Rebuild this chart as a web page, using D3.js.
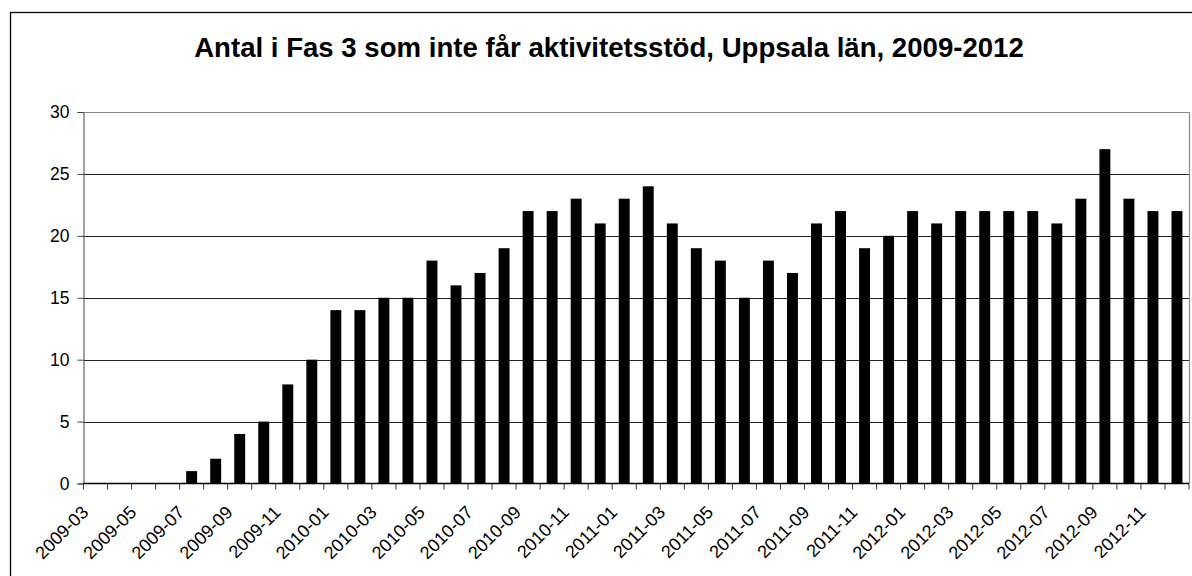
<!DOCTYPE html>
<html lang="sv">
<head>
  <meta charset="UTF-8">
  <title>Antal i Fas 3 som inte får aktivitetsstöd</title>
  <script src="https://d3js.org/d3.v7.min.js"></script>
  <style>
    body {
      margin: 0;
      padding: 0;
      background: #fff;
    }
    svg {
      display: block;
      font-family: Arial, "Liberation Sans", sans-serif;
    }
  </style>
</head>
<body>
  <svg width="1192" height="576"></svg>

  <script>
    // months 2009-03 .. 2012-12
    const months = [
      "2009-03", "2009-04", "2009-05", "2009-06", "2009-07", "2009-08", "2009-09", "2009-10",
      "2009-11", "2009-12", "2010-01", "2010-02", "2010-03", "2010-04", "2010-05", "2010-06",
      "2010-07", "2010-08", "2010-09", "2010-10", "2010-11", "2010-12", "2011-01", "2011-02",
      "2011-03", "2011-04", "2011-05", "2011-06", "2011-07", "2011-08", "2011-09", "2011-10",
      "2011-11", "2011-12", "2012-01", "2012-02", "2012-03", "2012-04", "2012-05", "2012-06",
      "2012-07", "2012-08", "2012-09", "2012-10", "2012-11", "2012-12"
    ];

    const counts = [
      0, 0, 0, 0, 1, 2, 4, 5,
      8, 10, 14, 14, 15, 15, 18, 16,
      17, 19, 22, 22, 23, 21, 23, 24,
      21, 19, 18, 15, 18, 17, 21, 22,
      19, 20, 22, 21, 22, 22, 22, 22,
      21, 23, 27, 23, 22, 22
    ];

    const yTicks = [0, 5, 10, 15, 20, 25, 30];

    const title = "Antal i Fas 3 som inte får aktivitetsstöd, Uppsala län, 2009-2012";

    const svg = d3.select("svg");

    const plotL = 83.5, plotR = 1189, plotT = 112, plotB = 483.5;

    // outer chart border
    svg.append("rect")
      .attr("x", 10.5).attr("y", 12.5)
      .attr("width", 1200).attr("height", 600)
      .attr("fill", "#fff")
      .attr("stroke", "#000")
      .attr("stroke-width", 1.3);

    svg.append("text")
      .attr("x", 609)
      .attr("y", 57)
      .attr("text-anchor", "middle")
      .attr("font-size", 27.6)
      .attr("font-weight", "bold")
      .text(title);

    const x = d3.scaleBand()
      .domain(months)
      .range([plotL, plotR])
      .paddingInner(0.545)
      .paddingOuter(0.2725);

    const y = d3.scaleLinear()
      .domain([0, 30])
      .range([plotB, plotT]);

    // gridlines
    svg.append("g")
      .selectAll("line")
      .data(yTicks.filter(d => d > 0 && d < 30))
      .enter().append("line")
      .attr("x1", plotL).attr("x2", plotR)
      .attr("y1", d => Math.round(y(d)) + 0.5)
      .attr("y2", d => Math.round(y(d)) + 0.5)
      .attr("stroke", "#222");

    // plot area border (top + right)
    svg.append("path")
      .attr("d", `M${plotL},${plotT + 0.5}H${plotR + 0.5}V${plotB}`)
      .attr("fill", "none")
      .attr("stroke", "#8a8a8a")
      .attr("stroke-width", 1.2);

    // bars
    svg.append("g")
      .selectAll("rect")
      .data(months)
      .enter().append("rect")
      .attr("x", d => x(d))
      .attr("width", x.bandwidth())
      .attr("y", (d, i) => y(counts[i]))
      .attr("height", (d, i) => y(0) - y(counts[i]))
      .attr("fill", "#000");

    // y axis
    const yAxis = d3.axisLeft(y)
      .tickValues(yTicks)
      .tickSize(6)
      .tickPadding(8);

    const gy = svg.append("g")
      .attr("transform", `translate(${plotL},0)`)
      .call(yAxis);
    gy.select(".domain").attr("stroke", "#444");
    gy.selectAll(".tick line").attr("stroke", "#444");
    gy.selectAll(".tick text")
      .attr("font-size", 17.5)
      .attr("font-family", "Arial, 'Liberation Sans', sans-serif")
      .attr("fill", "#000");

    // x axis line and ticks at category boundaries
    const step = x.step();
    const bounds = months.map(d => x(d) - (step - x.bandwidth()) / 2).concat([plotR]);

    svg.append("line")
      .attr("x1", plotL).attr("x2", plotR)
      .attr("y1", plotB).attr("y2", plotB)
      .attr("stroke", "#000")
      .attr("stroke-width", 1.3);

    svg.append("g")
      .selectAll("line")
      .data(bounds)
      .enter().append("line")
      .attr("x1", d => d).attr("x2", d => d)
      .attr("y1", plotB).attr("y2", plotB + 6)
      .attr("stroke", "#333");

    // rotated month labels, every second month
    svg.append("g")
      .selectAll("text")
      .data(months.filter((d, i) => i % 2 === 0))
      .enter().append("text")
      .attr("transform", d => `translate(${x(d) + x.bandwidth() / 2 - 6},${plotB + 30}) rotate(-45)`)
      .attr("text-anchor", "end")
      .attr("font-size", 18)
      .text(d => d);
  </script>
</body>
</html>
